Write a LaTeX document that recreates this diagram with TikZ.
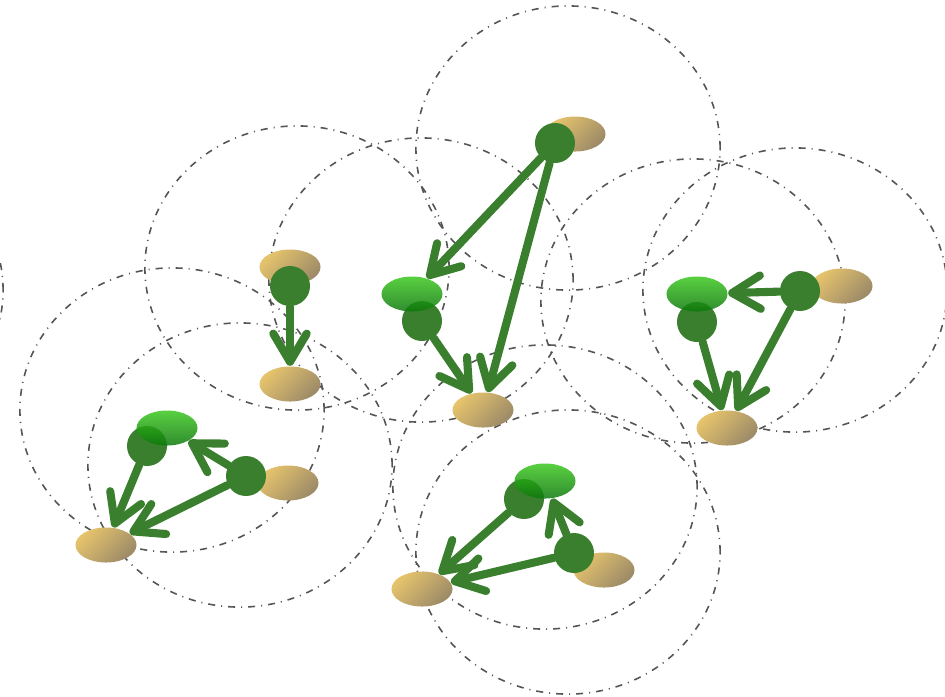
\documentclass[tikz,border=0pt]{standalone}
\usetikzlibrary{arrows.meta,shapes.geometric}
\definecolor{sprout}{HTML}{3A7F2E}
\definecolor{ringgray}{HTML}{555555}
\definecolor{tanlight}{HTML}{E6C46C}
\definecolor{tandark}{HTML}{9C8A68}
\definecolor{leaflight}{HTML}{3CC81E}
\definecolor{leafdark}{HTML}{0C780C}

\begin{document}
\begin{tikzpicture}[x=0.01cm,y=-0.01cm,
    rng/.style={ellipse,draw=ringgray,line width=0.45pt,
      dash pattern=on 2pt off 1.7pt on 0.3pt off 1.7pt,
      minimum width=3.04cm,minimum height=2.84cm,inner sep=0pt},
    seed/.style={ellipse,minimum width=0.61cm,minimum height=0.35cm,inner sep=0pt,
      top color=tanlight,bottom color=tandark,shading angle=45},
    leaf/.style={ellipse,minimum width=0.61cm,minimum height=0.35cm,inner sep=0pt,
      top color=leaflight,bottom color=leafdark,fill opacity=0.85},
    dot/.style={circle,fill=sprout,minimum size=0.4cm,inner sep=0pt},
    arr/.style={draw=sprout,line width=2.3pt,line cap=round,
      -{Straight Barb[round,length=8pt,width=9.5pt]}}]
 \useasboundingbox (0,0) rectangle (945,696);
 % ranges
 \node[rng] (R0) at (-149,290) {};
 \node[rng] (R1) at (568,148) {};
 \node[rng] (R2) at (297,268) {};
 \node[rng] (R3) at (421,280) {};
 \node[rng] (R4) at (693,301) {};
 \node[rng] (R5) at (795,290) {};
 \node[rng] (R6) at (172,410) {};
 \node[rng] (R7) at (240,465) {};
 \node[rng] (R8) at (545,487) {};
 \node[rng] (R9) at (568,552) {};
 % seeds
 \node[seed] (S1) at (575,134) {};
 \node[seed] (S2) at (290,267) {};
 \node[seed] (S3) at (290,384) {};
 \node[seed] (S4) at (483,410) {};
 \node[seed] (S5) at (842,286) {};
 \node[seed] (S6) at (727,428) {};
 \node[seed] (S7) at (288,483) {};
 \node[seed] (S8) at (106,545) {};
 \node[seed] (S9) at (604,570) {};
 \node[seed] (S10) at (422,589) {};
 % agents
 \node[dot] (A1) at (555,143) {};
 \node[dot] (A2) at (290,286) {};
 \node[dot] (A3) at (422,321) {};
 \node[dot] (A4) at (697,322) {};
 \node[dot] (A5) at (800,291) {};
 \node[dot] (A6) at (147,446) {};
 \node[dot] (A7) at (246,476) {};
 \node[dot] (A8) at (524,499) {};
 \node[dot] (A9) at (574,553) {};
 % leaves
 \node[leaf] (L1) at (412,294) {};
 \node[leaf] (L2) at (697,294) {};
 \node[leaf] (L3) at (167,428) {};
 \node[leaf] (L4) at (545,481) {};
 % moves
 \draw[arr] (A1) -- (L1);
 \draw[arr] (A1) -- (S4);
 \draw[arr] (A2) -- (S3);
 \draw[arr] (A3) -- (S4);
 \draw[arr] (A5) -- (L2);
 \draw[arr] (A5) -- (S6);
 \draw[arr] (A4) -- (S6);
 \draw[arr] (A6) -- (S8);
 \draw[arr] (A7) -- (S8);
 \draw[arr] (A7) -- (L3);
 \draw[arr] (A8) -- (S10);
 \draw[arr] (A9) -- (S10);
 \draw[arr] (A9) -- (L4);
\end{tikzpicture}
\end{document}
